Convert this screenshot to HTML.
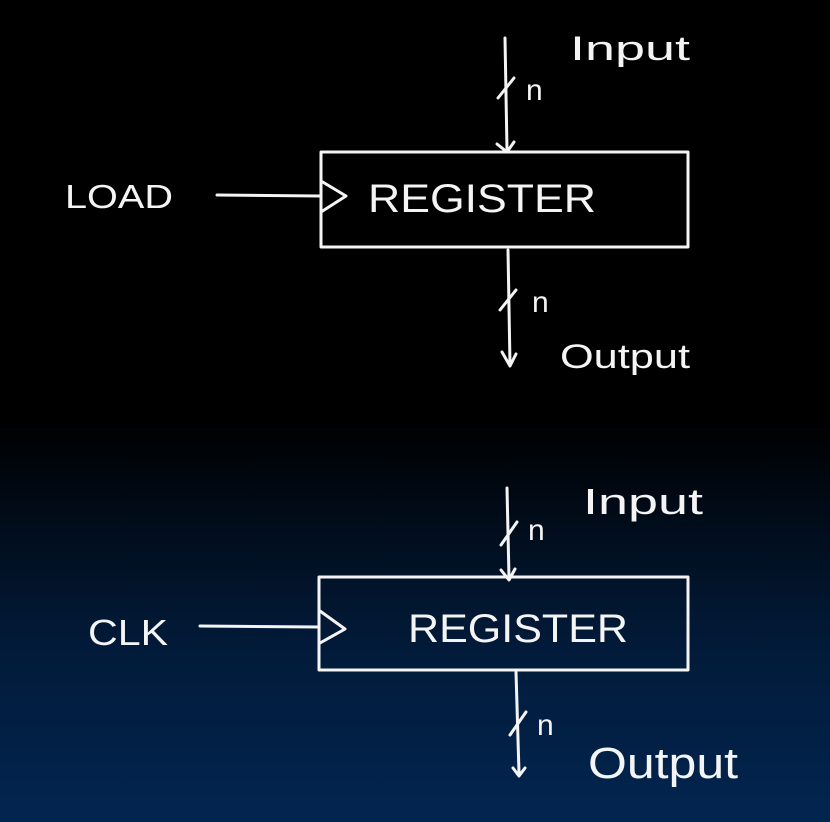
<!DOCTYPE html>
<html><head><meta charset="utf-8"><style>
html,body{margin:0;padding:0;width:830px;height:822px;overflow:hidden}
body{background:linear-gradient(to bottom,#000 0px,#000 420px,#021a38 640px,#022550 822px)}
svg{position:absolute;left:0;top:0}
text{fill:#f4f4f4;font-family:"Liberation Sans",sans-serif}
</style></head><body>
<svg width="830" height="822" viewBox="0 0 830 822" fill="none" stroke="#f4f4f4" stroke-width="3" stroke-linecap="round" stroke-linejoin="round">
<!-- top -->
<rect x="321" y="152" width="367" height="95"/>
<path d="M505 38 L507 150 M497 144 L507 152 L514 142"/>
<path d="M498 98 L514 78"/>
<text x="526" y="100" font-size="30" stroke="none">n</text>
<text x="570" y="60" font-size="34" stroke="none" textLength="120" lengthAdjust="spacingAndGlyphs">Input</text>
<text x="65" y="208" font-size="33" stroke="none" textLength="108" lengthAdjust="spacingAndGlyphs">LOAD</text>
<path d="M217 195 L320 196 M321 181 L346 196 L321 212"/>
<text x="368" y="212" font-size="40" stroke="none" textLength="228" lengthAdjust="spacingAndGlyphs">REGISTER</text>
<path d="M508 250 L510 365 M502 352 L510 366 L516 354"/>
<path d="M500 310 L516 290"/>
<text x="532" y="312" font-size="30" stroke="none">n</text>
<text x="560" y="368" font-size="34" stroke="none" textLength="130" lengthAdjust="spacingAndGlyphs">Output</text>
<!-- bottom -->
<rect x="319" y="577" width="369" height="93"/>
<path d="M507 488 L509 578 M501 570 L509 580 L515 569"/>
<path d="M501 545 L517 522"/>
<text x="528" y="540" font-size="30" stroke="none">n</text>
<text x="583" y="514" font-size="36" stroke="none" textLength="120" lengthAdjust="spacingAndGlyphs">Input</text>
<text x="88" y="645" font-size="36" stroke="none" textLength="80" lengthAdjust="spacingAndGlyphs">CLK</text>
<path d="M200 626 L318 627 M320 611 L345 629 L320 643"/>
<text x="408" y="642" font-size="40" stroke="none" textLength="220" lengthAdjust="spacingAndGlyphs">REGISTER</text>
<path d="M516 672 L519 773 M513 768 L519 776 L525 768"/>
<path d="M510 735 L526 712"/>
<text x="537" y="735" font-size="30" stroke="none">n</text>
<text x="588" y="778" font-size="44" stroke="none" textLength="150" lengthAdjust="spacingAndGlyphs">Output</text>
</svg>
</body></html>
